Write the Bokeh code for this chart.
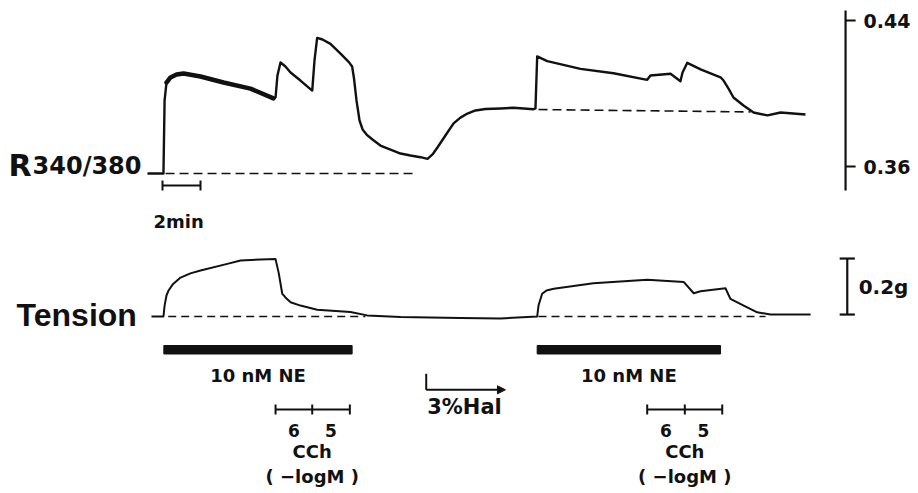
import numpy as np
from bokeh.plotting import figure
from bokeh.models import Range1d, Arrow, NormalHead
from bokeh.core.properties import value
from bokeh.embed import file_html
from bokeh.resources import INLINE

# ---------------- data (time in minutes, 0 = start of NE) ----------------
ratio_time = [-0.79, 0.05, 0.11, 0.21, 0.42, 0.74, 1.11, 2.0, 3.21, 4.63, 5.84, 5.95, 6.05,
              6.21, 6.47, 6.74, 7.26, 7.88, 8.0, 8.14, 8.42, 8.84, 9.37, 9.81, 9.98, 10.08,
              10.21, 10.37, 10.53, 10.74, 11.05, 11.47, 12.0, 12.53, 13.05, 13.58, 13.95,
              14.21, 14.47, 14.89, 15.32, 15.68, 16.05, 16.47, 17.0, 17.79, 18.47, 19.53,
              19.63, 19.72, 20.25, 22.0, 23.74, 25.51, 25.68, 26.74, 27.26, 27.37, 27.62,
              28.32, 29.37, 29.53, 29.79, 30.05, 30.58, 31.11, 31.84, 32.53, 33.84]
ratio_value = [0.3562, 0.3562, 0.3962, 0.4060, 0.4088, 0.4104, 0.4110, 0.4093, 0.4060, 0.4027,
               0.3973, 0.3978, 0.4099, 0.4170, 0.4148, 0.4115, 0.4071, 0.4016, 0.4181, 0.4305,
               0.4296, 0.4272, 0.4218, 0.4172, 0.4148, 0.4082, 0.3962, 0.3852, 0.3803, 0.3775,
               0.3748, 0.3715, 0.3693, 0.3671, 0.3660, 0.3651, 0.3642, 0.3666, 0.3704, 0.3770,
               0.3836, 0.3868, 0.3890, 0.3907, 0.3915, 0.3918, 0.3922, 0.3914, 0.3918, 0.4203,
               0.4177, 0.4135, 0.4111, 0.4075, 0.4099, 0.4108, 0.4067, 0.4115, 0.4168, 0.4132,
               0.4089, 0.4071, 0.4027, 0.3978, 0.3934, 0.3896, 0.3880, 0.3896, 0.3885]
ratio_noisy_span = (0.2, 5.9)          # part of the trace recorded as a thick noisy band

tension_time = [-0.58, 0.05, 0.11, 0.21, 0.32, 0.53, 0.95, 1.47, 2.0, 3.41, 4.11, 5.16, 5.95,
                6.12, 6.30, 6.47, 6.74, 7.26, 8.14, 9.89, 10.77, 12.53, 15.68, 17.79, 19.72,
                19.79, 19.98, 20.21, 20.59, 22.68, 25.51, 27.44, 27.96, 28.32, 29.63, 29.89,
                30.59, 31.3, 32.0, 34.11]
tension_value = [0.0, 0.0, 0.039, 0.075, 0.093, 0.114, 0.139, 0.154, 0.164, 0.188, 0.200, 0.204,
                 0.205, 0.154, 0.082, 0.068, 0.051, 0.039, 0.024, 0.016, 0.004, -0.002, -0.005,
                 -0.007, 0.0, 0.039, 0.081, 0.093, 0.099, 0.119, 0.131, 0.123, 0.083, 0.090,
                 0.101, 0.063, 0.039, 0.015, 0.007, 0.007]

ratio_base_t0 = [0.16, 19.79]
ratio_base_t1 = [13.32, 30.95]
ratio_base_v0 = [0.3562, 0.3912]
ratio_base_v1 = [0.3562, 0.3899]
tension_base_t0 = [0.30, 19.79]
tension_base_t1 = [10.68, 31.74]

ne_start = [0.07, 19.72]
ne_end = [9.98, 29.37]
ne_label = "10 nM NE"
cch_marks = [[5.95, 7.88, 9.86], [25.51, 27.49, 29.46]]
cch_doses = ["6", "5"]
hal_start, hal_end = 13.88, 18.05
hal_label = "3%Hal"

ratio_ticks = [0.36, 0.44]
ratio_tick_labels = ["0.36", "0.44"]
tension_scale = 0.2
tension_scale_label = "0.2g"
time_scale = 2.0
time_scale_label = "2min"

# ---------------- figure ----------------
p = figure(width=918, height=493, x_range=Range1d(-8.5263, 39.789),
           y_range=Range1d(0.18082, 0.45096), output_backend="svg",
           toolbar_location=None, x_axis_location=None, y_axis_location=None,
           min_border=0)
p.extra_y_ranges = {"tension": Range1d(-0.63214, 1.12857)}
p.grid.visible = False
p.outline_line_color = None
p.background_fill_color = "white"

BOLD = value("DejaVu Sans")
HELV = value("Liberation Sans")
INK = "#111111"

# dashed baselines
p.segment(ratio_base_t0, ratio_base_v0, ratio_base_t1, ratio_base_v1,
          line_color=INK, line_width=1.6, line_dash="9 5")
p.segment(tension_base_t0, [0, 0], tension_base_t1, [0, 0], y_range_name="tension",
          line_color=INK, line_width=1.4, line_dash="8 5")

# traces
p.line(ratio_time, ratio_value, line_color=INK, line_width=2.4, line_join="round")
rt = np.array(ratio_time)
rv = np.array(ratio_value)
m = (rt >= ratio_noisy_span[0]) & (rt <= ratio_noisy_span[1])
p.line(rt[m], rv[m], line_color=INK, line_width=4.5, line_join="round", line_cap="round")
p.line(tension_time, tension_value, y_range_name="tension", line_color=INK,
       line_width=2.0, line_join="round")

# ratio scale (right)
sx = 35.95
tick_len = 0.53
p.segment([sx], [0.3468], [sx], [0.4455], line_color=INK, line_width=2.2)
p.segment([sx] * 2, ratio_ticks, [sx + tick_len] * 2, ratio_ticks, line_color=INK, line_width=2.2)
p.text([sx + 0.95] * 2, ratio_ticks, text=ratio_tick_labels, text_font=BOLD,
       text_font_style="bold", text_font_size="19px", text_baseline="middle",
       text_align="left", text_color=INK)

# tension scale bar
tx = 36.04
t_bot = 0.007
t_top = t_bot + tension_scale
p.segment([tx], [t_bot], [tx], [t_top], y_range_name="tension", line_color=INK, line_width=2.2)
p.segment([tx - 0.4] * 2, [t_bot, t_top], [tx + 0.4] * 2, [t_bot, t_top],
          y_range_name="tension", line_color=INK, line_width=2.2)
p.text([tx + 0.6], [(t_bot + t_top) / 2], text=[tension_scale_label], y_range_name="tension",
       text_font=BOLD, text_font_style="bold", text_font_size="20px",
       text_baseline="middle", text_align="left", text_color=INK)

# time scale bar
ty = 0.3496
cap = 0.0027
p.segment([0], [ty], [time_scale], [ty], line_color=INK, line_width=2)
p.segment([0, time_scale], [ty - cap] * 2, [0, time_scale], [ty + cap] * 2, line_color=INK, line_width=2)
p.text([time_scale / 2 - 0.15], [0.3299], text=[time_scale_label], text_font=BOLD,
       text_font_style="bold", text_font_size="18px", text_baseline="middle",
       text_align="center", text_color=INK)

# trace labels
p.text([-8.1], [0.3605], text=["R"], text_font=BOLD, text_font_style="bold",
       text_font_size="30px", text_baseline="alphabetic", text_align="left", text_color=INK)
p.text([-6.84], [0.3605], text=["340/380"], text_font=BOLD, text_font_style="bold",
       text_font_size="24px", text_baseline="alphabetic", text_align="left", text_color=INK)
p.text([-7.68], [0.0036], text=["Tension"], y_range_name="tension", text_font=HELV,
       text_font_style="bold", text_font_size="32px", text_baseline="alphabetic",
       text_align="left", text_color=INK)

# NE bars
p.quad(left=ne_start, right=ne_end, top=-0.1036, bottom=-0.1339, y_range_name="tension",
       fill_color=INK, line_color=INK, line_width=1)
ne_mid = [(a + b) / 2 for a, b in zip(ne_start, ne_end)]
p.text(ne_mid, [-0.2107] * 2, text=[ne_label] * 2, y_range_name="tension", text_font=BOLD,
       text_font_style="bold", text_font_size="18px", text_baseline="middle",
       text_align="center", text_color=INK)

# CCh markers
cy = -0.3321
ch = 0.0179
for marks in cch_marks:
    p.segment([marks[0]], [cy], [marks[-1]], [cy], y_range_name="tension",
              line_color=INK, line_width=2)
    p.segment(marks, [cy - ch] * 3, marks, [cy + ch] * 3, y_range_name="tension",
              line_color=INK, line_width=2)
    mids = [(marks[i] + marks[i + 1]) / 2 for i in range(2)]
    p.text(mids, [-0.4089] * 2, text=cch_doses, y_range_name="tension", text_font=BOLD,
           text_font_style="bold", text_font_size="17px", text_baseline="middle",
           text_align="center", text_color=INK)
    p.text([marks[1]], [-0.4821], text=["CCh"], y_range_name="tension", text_font=BOLD,
           text_font_style="bold", text_font_size="18px", text_baseline="middle",
           text_align="center", text_color=INK)
    p.text([marks[1]], [-0.5714], text=["( \u2212logM )"], y_range_name="tension",
           text_font=BOLD, text_font_style="bold", text_font_size="18px",
           text_baseline="middle", text_align="center", text_color=INK)

# halothane arrow
hy = -0.2618
p.segment([hal_start], [-0.2046], [hal_start], [hy], y_range_name="tension",
          line_color=INK, line_width=2)
p.add_layout(Arrow(end=NormalHead(size=8, fill_color=INK, line_color=INK, line_width=1),
                   x_start=hal_start, y_start=hy, x_end=hal_end, y_end=hy,
                   y_range_name="tension", line_color=INK, line_width=2))
p.text([hal_start + 0.05], [-0.3232], text=[hal_label], y_range_name="tension",
       text_font=BOLD, text_font_style="bold", text_font_size="21px",
       text_baseline="middle", text_align="left", text_color=INK)

open("out.html", "w").write(file_html(p, INLINE))
